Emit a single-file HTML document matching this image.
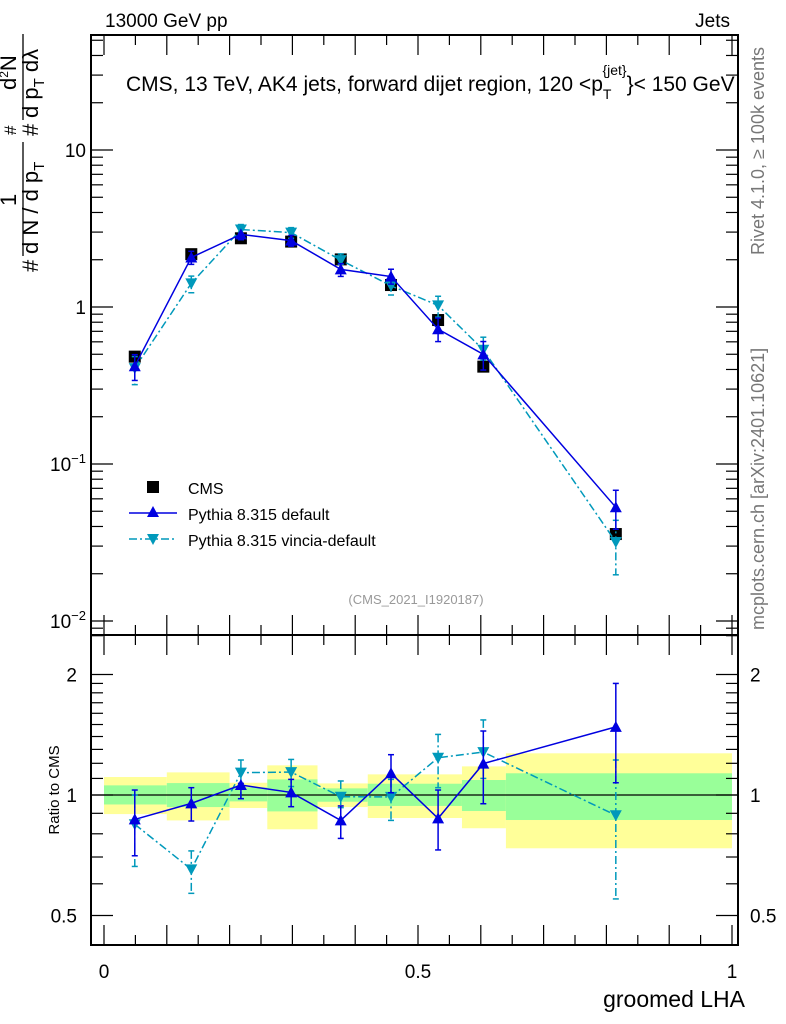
<!DOCTYPE html>
<html><head><meta charset="utf-8"><style>
body{margin:0;background:#fff;}
svg{display:block;font-family:"Liberation Sans",sans-serif;}
</style></head><body>
<svg id="chart" width="786" height="1024" viewBox="0 0 786 1024" xmlns="http://www.w3.org/2000/svg">
<g id="bands"></g>
<g id="axes"></g>
<g id="series"></g>
<text x="105" y="27" font-size="19">13000 GeV pp</text>
<text x="730" y="27" font-size="19" text-anchor="end">Jets</text>
<text x="126" y="91" font-size="21">CMS, 13 TeV, AK4 jets, forward dijet region, 120 &lt;p<tspan font-size="14" dy="8">T</tspan><tspan font-size="14" dx="-9" dy="-24">{jet}</tspan><tspan dy="16">}&lt; 150 GeV</tspan></text>
<text x="416" y="604" font-size="13" fill="#999" text-anchor="middle">(CMS_2021_I1920187)</text>
<g font-size="22">
<g transform="translate(38,272) rotate(-90)">
<text x="0" y="0">#</text>
<text x="18" y="0">d N / d p<tspan font-size="15" dy="6">T</tspan></text>
<line x1="16" y1="-15" x2="130" y2="-15" stroke="#000" stroke-width="1.3"/>
<text x="66" y="-22">1</text>
<text x="136" y="0">#</text>
<text x="154" y="0">d p<tspan font-size="15" dy="6">T</tspan><tspan dy="-6"> d</tspan>λ</text>
<line x1="152" y1="-15" x2="238" y2="-15" stroke="#000" stroke-width="1.3"/>
<text x="182" y="-22">d<tspan font-size="12" dy="-8">2</tspan><tspan dy="8">N</tspan></text>
<text x="137" y="-22" font-size="17">#</text>
</g>
</g>
<text transform="translate(59,790) rotate(-90)" font-size="15" text-anchor="middle">Ratio to CMS</text>
<text x="745" y="1007" font-size="23" text-anchor="end">groomed LHA</text>
<text transform="translate(764,255) rotate(-90)" font-size="18" fill="#777">Rivet 4.1.0, ≥ 100k events</text>
<text transform="translate(764,630) rotate(-90)" font-size="18" fill="#777">mcplots.cern.ch [arXiv:2401.10621]</text>
<g font-size="16">
<rect x="147" y="481" width="12" height="12" fill="#000"/>
<text x="188" y="494">CMS</text>
<line x1="129" y1="513" x2="177" y2="513" stroke="#0000e0" stroke-width="1.5"/>
<polygon points="153,506 147,517 159,517" fill="#0000e0"/>
<text x="188" y="520">Pythia 8.315 default</text>
<line x1="129" y1="539" x2="177" y2="539" stroke="#0099bb" stroke-width="1.5" stroke-dasharray="8,3,2,3"/>
<polygon points="147,534 159,534 153,545" fill="#0099bb"/>
<text x="188" y="546">Pythia 8.315 vincia-default</text>
</g>
</svg>
<script>
const xPoints=[0.049,0.139,0.218,0.298,0.377,0.457,0.532,0.604,0.815];
const binEdges=[0,0.1,0.2,0.26,0.34,0.42,0.5,0.57,0.64,1.0];
const cmsValues=[0.483,2.17,2.74,2.61,2.01,1.38,0.826,0.417,0.0358];
const bandYellowHi=[1.109,1.139,1.073,1.186,1.069,1.126,1.126,1.179,1.271];
const bandYellowLo=[0.896,0.864,0.928,0.821,0.933,0.876,0.876,0.826,0.736];
const bandGreenHi=[1.057,1.071,1.045,1.094,1.039,1.067,1.067,1.090,1.133];
const bandGreenLo=[0.947,0.933,0.964,0.910,0.962,0.939,0.939,0.912,0.866];
const defRatio=[0.869,0.953,1.059,1.015,0.864,1.133,0.874,1.198,1.48];
const defHi=[1.029,1.043,1.069,1.094,0.939,1.261,1.029,1.445,1.90];
const defLo=[0.705,0.861,0.979,0.935,0.779,1.013,0.729,0.951,1.073];
const vinRatio=[0.845,0.652,1.137,1.141,0.99,0.989,1.239,1.28,0.89];
const vinHi=[1.0,0.725,1.223,1.227,1.084,1.094,1.417,1.54,1.223];
const vinLo=[0.663,0.568,0.979,1.05,0.93,0.864,1.043,1.1,0.55];
const mainTicks=["10^-2","10^-1","1","10"];
const ratioTicks=["0.5","1","2"];
const xTicks=["0","0.5","1"];

const NS="http://www.w3.org/2000/svg";
const L=91,R=738,T=35,M=635,B=945;
const X=v=>104+v*628;
const Y=v=>307-157*Math.log10(v);
const RY=v=>795-120.5*Math.log2(v);
function mk(tag,attrs,parent){const e=document.createElementNS(NS,tag);for(const k in attrs)e.setAttribute(k,attrs[k]);parent.appendChild(e);return e;}
const bands=document.getElementById('bands'),axes=document.getElementById('axes'),ser=document.getElementById('series');

for(let i=0;i<cmsValues.length;i++){
 const x1=X(binEdges[i]),x2=X(binEdges[i+1]);
 const y=mk('rect',{x:x1,y:RY(bandYellowHi[i]),width:x2-x1,height:RY(bandYellowLo[i])-RY(bandYellowHi[i]),fill:'#ffff99'},bands);
 
 
 const g=mk('rect',{x:x1,y:RY(bandGreenHi[i]),width:x2-x1,height:RY(bandGreenLo[i])-RY(bandGreenHi[i]),fill:'#99ff99'},bands);
 
 
}
mk('line',{x1:L,y1:RY(1),x2:R,y2:RY(1),stroke:'#000','stroke-width':1.3},axes);
mk('rect',{x:L,y:T,width:R-L,height:M-T,fill:'none',stroke:'#000','stroke-width':2},axes);
mk('rect',{x:L,y:M,width:R-L,height:B-M,fill:'none',stroke:'#000','stroke-width':2},axes);
for(let v=0;v<=1.0001;v+=0.05){
 const big=Math.abs(v*10-Math.round(v*10))<1e-6, len=big?20:10;
 const x=X(v);
 [[M,-1],[T,1],[B,-1],[M,1]].forEach(([y0,d])=>{mk('line',{x1:x,y1:y0,x2:x,y2:y0+d*len,stroke:'#000','stroke-width':1.2},axes);});
}
xTicks.forEach(t=>{const e=mk('text',{x:X(parseFloat(t)),y:978,'font-size':19,'text-anchor':'middle'},axes);e.textContent=t;
 
 });
for(let d=-3;d<=1;d++){for(let m=1;m<10;m++){const v=m*Math.pow(10,d);const y=Y(v);if(y<T||y>M)continue;const len=m==1?22:12;
 mk('line',{x1:L,y1:y,x2:L+len,y2:y,stroke:'#000','stroke-width':1.2},axes);mk('line',{x1:R,y1:y,x2:R-len,y2:y,stroke:'#000','stroke-width':1.2},axes);}}
mainTicks.forEach(t=>{let v;
 if(t.indexOf('^')>0){const ex=t.split('^')[1];v=Math.pow(10,+ex);
  const e=mk('text',{x:86,y:Y(v)+7,'font-size':19,'text-anchor':'end'},axes);e.innerHTML='10<tspan font-size="13" dy="-8">'+ex.replace('-','−')+'</tspan>';
  
  
 }else{v=+t;const e=mk('text',{x:86,y:Y(v)+7,'font-size':19,'text-anchor':'end'},axes);e.textContent=t;
  
  }});
const rminor=[0.4,0.5,0.6,0.7,0.8,0.9,1,1.1,1.2,1.3,1.4,1.5,1.6,1.7,1.8,1.9,2,2.5];
rminor.forEach(v=>{const y=RY(v);if(y<M||y>B)return;const len=(v==0.5||v==1||v==2)?22:12;
 mk('line',{x1:L,y1:y,x2:L+len,y2:y,stroke:'#000','stroke-width':1.2},axes);mk('line',{x1:R,y1:y,x2:R-len,y2:y,stroke:'#000','stroke-width':1.2},axes);});
ratioTicks.forEach(t=>{const v=+t;[[77,'end'],[750,'start']].forEach(([x,a])=>{const e=mk('text',{x:x,y:RY(v)+7,'font-size':19,'text-anchor':a},axes);e.textContent=t;
 
 });});

function drawSeries(name,vals,hiR,loR,color,dash,down,yf,ratioMode){
 const g=mk('g',{},ser);
 
 
 const pts=vals.map((v,i)=>X(xPoints[i])+','+yf(v,i));
 mk('polyline',{points:pts.join(' '),fill:'none',stroke:color,'stroke-width':1.5,'stroke-dasharray':dash},g);
 vals.forEach((v,i)=>{const x=X(xPoints[i]);const y=yf(v,i);
  const hi=ratioMode?hiR[i]:cmsValues[i]*hiR[i],lo=ratioMode?loR[i]:cmsValues[i]*loR[i];
  const yh=ratioMode?RY(hi):Y(hi),yl=ratioMode?RY(lo):Y(lo);
  mk('line',{x1:x,y1:yh,x2:x,y2:yl,stroke:color,'stroke-width':1.5,'stroke-dasharray':dash},g);
  mk('line',{x1:x-3,y1:yh,x2:x+3,y2:yh,stroke:color,'stroke-width':1.5},g);
  mk('line',{x1:x-3,y1:yl,x2:x+3,y2:yl,stroke:color,'stroke-width':1.5},g);
  const p=down?`${x-6},${y-5} ${x+6},${y-5} ${x},${y+6}`:`${x},${y-6} ${x-6},${y+5} ${x+6},${y+5}`;
  const m=mk('polygon',{points:p,fill:color},g);
  
  
 });
}
cmsValues.forEach((v,i)=>{const r=mk('rect',{x:X(xPoints[i])-6,y:Y(v)-6,width:12,height:12,fill:'#000'},ser);
 
 });
drawSeries('pythia-vincia-main',vinRatio,vinHi,vinLo,'#0099bb','8,3,2,3',true,(v,i)=>Y(cmsValues[i]*v),false);
drawSeries('pythia-default-main',defRatio,defHi,defLo,'#0000e0','none',false,(v,i)=>Y(cmsValues[i]*v),false);
drawSeries('pythia-vincia-ratio',vinRatio,vinHi,vinLo,'#0099bb','8,3,2,3',true,(v)=>RY(v),true);
drawSeries('pythia-default-ratio',defRatio,defHi,defLo,'#0000e0','none',false,(v)=>RY(v),true);
</script>
</body></html>
